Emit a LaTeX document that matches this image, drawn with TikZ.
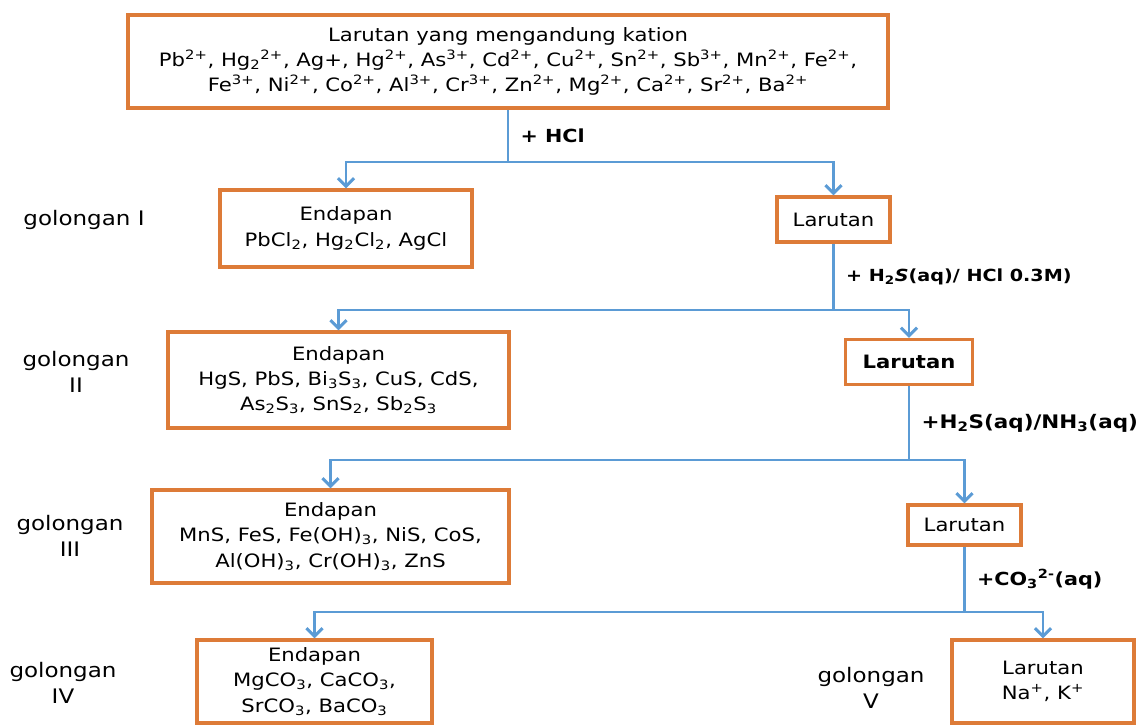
\documentclass[tikz,border=0pt]{standalone}
\usepackage{fontspec}
\setmainfont{DejaVu Sans}[FakeStretch=1.15]
\usepackage{tikz}
\usetikzlibrary{arrows.meta,positioning}
\definecolor{boxorange}{HTML}{DD7B38}
\definecolor{linkblue}{HTML}{5B9BD5}
\newcommand{\chg}[1]{\textsuperscript{#1}}
\newcommand{\nsub}[1]{\textsubscript{#1}}

\begin{document}
\begin{tikzpicture}[x=0.75pt,y=-0.75pt,>={Straight Barb[length=6pt,width=12pt]},
    box/.style={draw=boxorange,line width=2.6pt,align=center,inner sep=0pt,font=\fontsize{13.8}{19}\selectfont},
    link/.style={draw=linkblue,line width=2.2pt},
    reagent/.style={anchor=west,xshift=5pt,font=\fontsize{13.5}{16}\selectfont\bfseries},
    group/.style={align=center,font=\fontsize{15}{20}\selectfont}]

    \useasboundingbox (0,0) rectangle (1146,725);

    \node[box,minimum width=570pt,minimum height=69.75pt]
    (larutan0) at (508,61.5) {Larutan yang mengandung kation\\
        Pb\chg{2+}, Hg\nsub{2}\chg{2+}, Ag+, Hg\chg{2+}, As\chg{3+}, Cd\chg{2+}, Cu\chg{2+}, Sn\chg{2+}, Sb\chg{3+}, Mn\chg{2+}, Fe\chg{2+},\\
        Fe\chg{3+}, Ni\chg{2+}, Co\chg{2+}, Al\chg{3+}, Cr\chg{3+}, Zn\chg{2+}, Mg\chg{2+}, Ca\chg{2+}, Sr\chg{2+}, Ba\chg{2+}};
    \node[box,minimum width=189pt,minimum height=57.75pt]
    (endapan1) at (346,228.5) {Endapan\\ PbCl\nsub{2}, Hg\nsub{2}Cl\nsub{2}, AgCl};
    \node[box,minimum width=84.75pt,minimum height=33.75pt]
    (larutan1) at (833.5,219.5) {Larutan};
    \node[box,minimum width=255.75pt,minimum height=72pt]
    (endapan2) at (338.5,380) {Endapan\\ HgS, PbS, Bi\nsub{3}S\nsub{3}, CuS, CdS,\\ As\nsub{2}S\nsub{3}, SnS\nsub{2}, Sb\nsub{2}S\nsub{3}};
    \node[box,minimum width=95.25pt,minimum height=33.75pt]
    (larutan2) at (909,362) {\bfseries Larutan};
    \node[box,minimum width=267.75pt,minimum height=69.75pt]
    (endapan3) at (330.5,536.5) {Endapan\\ MnS, FeS, Fe(OH)\nsub{3}, NiS, CoS,\\ Al(OH)\nsub{3}, Cr(OH)\nsub{3}, ZnS};
    \node[box,minimum width=84.75pt,minimum height=30pt]
    (larutan3) at (964.5,525) {Larutan};
    \node[box,minimum width=176.25pt,minimum height=62.25pt]
    (endapan4) at (314.5,681.5) {Endapan\\ MgCO\nsub{3}, CaCO\nsub{3},\\ SrCO\nsub{3}, BaCO\nsub{3}};
    \node[box,minimum width=136.5pt,minimum height=62.25pt]
    (larutan4) at (1043,681.5) {Larutan\\ Na\chg{+}, K\chg{+}};

    \node[group] (gol1) at (84,220) {golongan I};
    \node[group] (gol2) at (76,372) {golongan\\ II};
    \node[group] (gol3) at (70,536) {golongan\\ III};
    \node[group] (gol4) at (63,683) {golongan\\ IV};
    \node[group] (gol5) at (871,688) {golongan\\ V};

    \coordinate (split1) at (larutan0.south |- 0,162);
    \coordinate (split2) at (larutan1.south |- 0,310);
    \coordinate (split3) at (larutan2.south |- 0,460);
    \coordinate (split4) at (larutan3.south |- 0,612);

    \draw[link] (larutan0) -- node[reagent] {+ HCl} (split1);
    \draw[link,->] (split1) -| (endapan1);
    \draw[link,->] (split1) -| (larutan1);

    \draw[link] (larutan1) -- node[reagent,font=\fontsize{12.5}{14}\selectfont\bfseries] {+ H\nsub{2}\textit{S}(aq)/ HCl 0.3M)} (split2);
    \draw[link,->] (split2) -| (endapan2);
    \draw[link,->] (split2) -| (larutan2);

    \draw[link] (larutan2) -- node[reagent,font=\fontsize{14}{16}\selectfont\bfseries] {+H\nsub{2}S(aq)/NH\nsub{3}(aq)} (split3);
    \draw[link,->] (split3) -| (endapan3);
    \draw[link,->] (split3) -| (larutan3);

    \draw[link] (larutan3) -- node[reagent] {+CO\nsub{3}\chg{2-}(aq)} (split4);
    \draw[link,->] (split4) -| (endapan4);
    \draw[link,->] (split4) -| (larutan4);
\end{tikzpicture}
\end{document}
